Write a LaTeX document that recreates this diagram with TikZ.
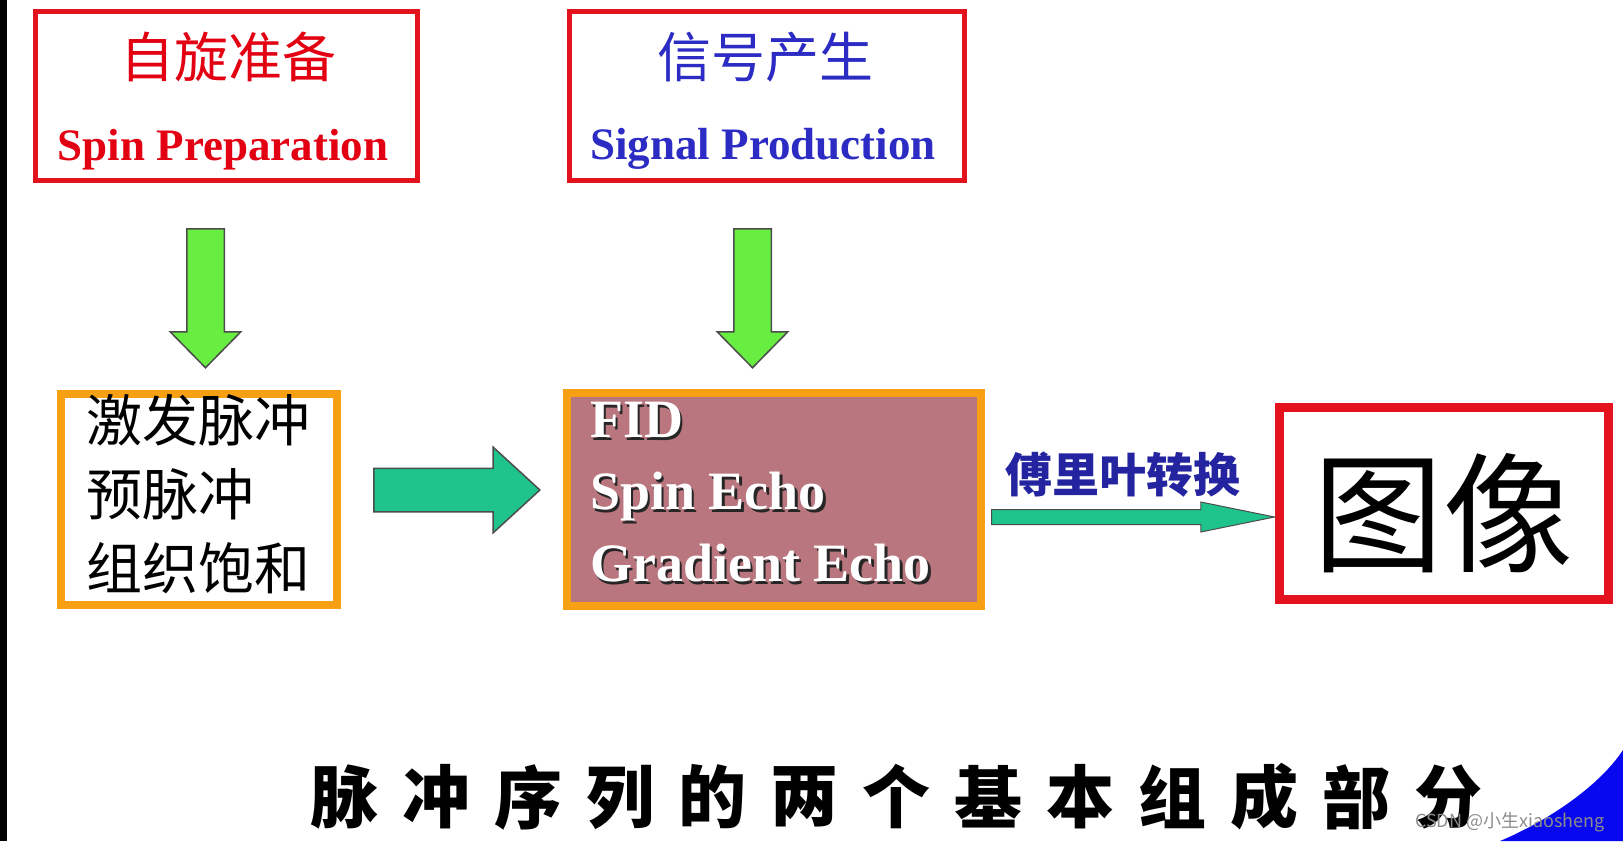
\documentclass[tikz,border=0pt]{standalone}
\usepackage{fontspec}
\setmainfont{Liberation Serif}
\newfontfamily\cjk{Noto Sans CJK SC}
\usetikzlibrary{shapes.arrows}

\definecolor{stagered}{RGB}{228,18,28}
\definecolor{stageorange}{RGB}{247,160,20}
\definecolor{echorose}{RGB}{185,118,126}
\definecolor{prepred}{RGB}{226,0,18}
\definecolor{sigblue}{RGB}{44,44,196}
\definecolor{fftblue}{RGB}{36,36,160}
\definecolor{arrowgreen}{RGB}{104,238,64}
\definecolor{arrowteal}{RGB}{30,196,140}
\definecolor{cornerblue}{RGB}{8,8,240}

\newcommand{\shadowed}[1]{\makebox[0pt][l]{\hspace{2.5pt}\raisebox{-2.5pt}{\color{black!85}#1}}#1}

\begin{document}
\begin{tikzpicture}[x=1pt, y=-1pt]
% STYLES
\tikzset{%
    stage/.style={%
    rectangle,
    draw=stagered,
    fill=white,
    inner sep=0pt},
    pulse/.style={%
    stage,
    draw=stageorange,
    line width=8pt,
    minimum height=211pt},
    bigdown/.style={%
    single arrow,
    draw=black!70,
    line width=1.5pt,
    fill=arrowgreen,
    inner xsep=0pt,
    inner ysep=18pt,
    minimum height=139pt,
    single arrow head extend=16.5pt,
    single arrow tip angle=89,
    rotate=-90,
    anchor=tail},
    flowarrow/.style={%
    single arrow,
    draw=black!70,
    line width=1.5pt,
    fill=arrowteal,
    inner xsep=0pt,
    anchor=tip},
    entitle/.style={%
    font=\fontsize{45}{45}\selectfont\bfseries,
    inner sep=0pt,
    anchor=base},
    zhtitle/.style={%
    font=\cjk\fontsize{54}{54}\selectfont,
    inner sep=0pt},
    titlechar/.style={%
    font=\cjk\bfseries\fontsize{68}{68}\selectfont,
    inner sep=0pt}
    }

% Canvas
\fill[white] (0,0) rectangle (1623,841);
\useasboundingbox (0,0) rectangle (1623,841);
\fill[black] (0,0) rectangle (7,841);
\fill[cornerblue] (1500,841) .. controls (1550,820) and (1600,785) .. (1623,750) -- (1623,841) -- cycle;

% Draw stages
\node [stage, line width=5pt, minimum width=382pt, minimum height=169pt] (prep) at (226.5,96) {};
\node [zhtitle, text=prepred] (prepzh) at (228,57) {自旋准备};
\node [entitle, text=prepred] (prepen) at (223,160) {Spin Preparation};

\node [stage, line width=5pt, minimum width=395pt, minimum height=169pt] (sig) at (767,96) {};
\node [zhtitle, text=sigblue] (sigzh) at (765,57) {信号产生};
\node [entitle, text=sigblue] (sigen) at (763,159) {Signal Production};

\node [pulse, minimum width=276pt] (excite) at (199,499) {};
\node [anchor=north west, inner sep=0pt, align=left,
       font=\cjk\fontsize{56}{74}\selectfont] (excitetext) at (86,394)
      {激发脉冲\\预脉冲\\组织饱和};

\node [pulse, fill=echorose, minimum width=414pt, minimum height=213pt] (echo) at (774,499.5) {};
\node [anchor=north west, inner sep=0pt, align=left, text=white,
       font=\fontsize{54}{72}\selectfont\bfseries] (echotext) at (590,402)
      {\shadowed{FID}\\\shadowed{Spin Echo}\\\shadowed{Gradient Echo}};

\node [stage, line width=9pt, minimum width=329pt, minimum height=192pt] (img) at (1444,503.5) {};
\node [font=\cjk\fontsize{130}{130}\selectfont, inner sep=0pt] (imgtext) at (1443,513) {图像};

% Draw the arrows between stages
\node [bigdown] (prepdown) at (205.5,228) {};
\node [bigdown] (sigdown) at (752.5,228) {};
\node [flowarrow, inner ysep=21pt, minimum height=166pt,
       single arrow head extend=21pt, single arrow tip angle=85] (exciteflow) at (541,490) {};
\node [flowarrow, line width=1pt, inner ysep=7pt, minimum height=283pt,
       single arrow head extend=7.5pt, single arrow tip angle=23] (fftflow) at ([xshift=2pt]img.west |- 0,517) {};
\node [font=\cjk\bfseries\fontsize{47}{47}\selectfont, text=fftblue, inner sep=0pt] (fftlabel) at (1123,475) {傅里叶转换};

% Caption
\foreach \ch [count=\i from 0] in {脉,冲,序,列,的,两,个,基,本,组,成,部,分}
    \node [titlechar] (title\i) at (344+92*\i,797) {\ch};

\node [font=\cjk\fontsize{18}{18}\selectfont, text=black!45, inner sep=0pt] (csdn) at (1510,822) {CSDN @小生xiaosheng};

\end{tikzpicture}
\end{document}
